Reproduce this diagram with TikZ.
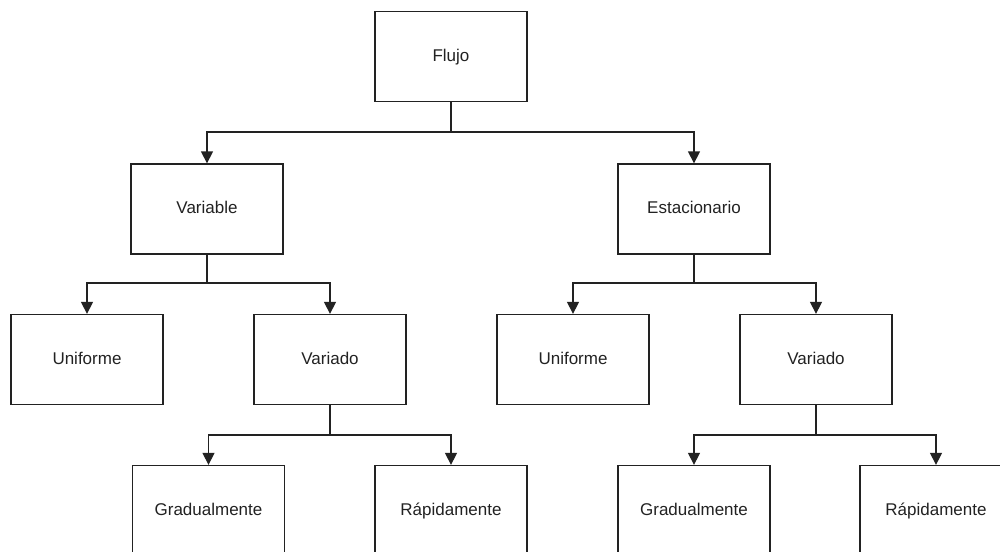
\documentclass[tikz,border=0pt]{standalone}
\usepackage{fontspec}
\setmainfont{Liberation Sans}
\usetikzlibrary{arrows.meta}
\definecolor{ln}{HTML}{222222}
\tikzset{
  box/.style={draw=ln, line width=1.3pt, minimum width=152pt, minimum height=90pt, inner sep=0pt,
    font=\fontsize{17}{20}\selectfont, text=ln, fill=white, text height=12.5pt, text depth=3.5pt},
  conn/.style={draw=ln, line width=1.3pt, -{Triangle[width=12pt,length=12pt]}}
}
\begin{document}
\begin{tikzpicture}[x=1pt,y=-1pt]
\useasboundingbox (0,0) rectangle (1000,551);
\fill[white] (0,0) rectangle (1000,551);
\clip (0,0) rectangle (1000,551);
\node[box] (flujo) at (451,56.5) {Flujo};
\node[box] (var) at (207,209) {Variable};
\node[box] (est) at (694,209) {Estacionario};
\node[box] (uniL) at (87,359.5) {Uniforme};
\node[box] (varL) at (330,359.5) {Variado};
\node[box] (uniR) at (573,359.5) {Uniforme};
\node[box] (varR) at (816,359.5) {Variado};
\node[box] (graL) at (208.5,510.5) {Gradualmente};
\node[box] (rapL) at (451,510.5) {Rápidamente};
\node[box] (graR) at (694,510.5) {Gradualmente};
\node[box] (rapR) at (936,510.5) {Rápidamente};
\coordinate (b1) at (451,132);
\coordinate (b2) at (207,283);
\coordinate (b3) at (694,283);
\coordinate (b4) at (330,435);
\coordinate (b5) at (816,435);
\draw[conn] (flujo.south) -- (b1) -| (var.north);
\draw[conn] (flujo.south) -- (b1) -| (est.north);
\draw[conn] (var.south) -- (b2) -| (uniL.north);
\draw[conn] (var.south) -- (b2) -| (varL.north);
\draw[conn] (est.south) -- (b3) -| (uniR.north);
\draw[conn] (est.south) -- (b3) -| (varR.north);
\draw[conn] (varL.south) -- (b4) -| (graL.north);
\draw[conn] (varL.south) -- (b4) -| (rapL.north);
\draw[conn] (varR.south) -- (b5) -| (graR.north);
\draw[conn] (varR.south) -- (b5) -| (rapR.north);
\end{tikzpicture}
\end{document}
